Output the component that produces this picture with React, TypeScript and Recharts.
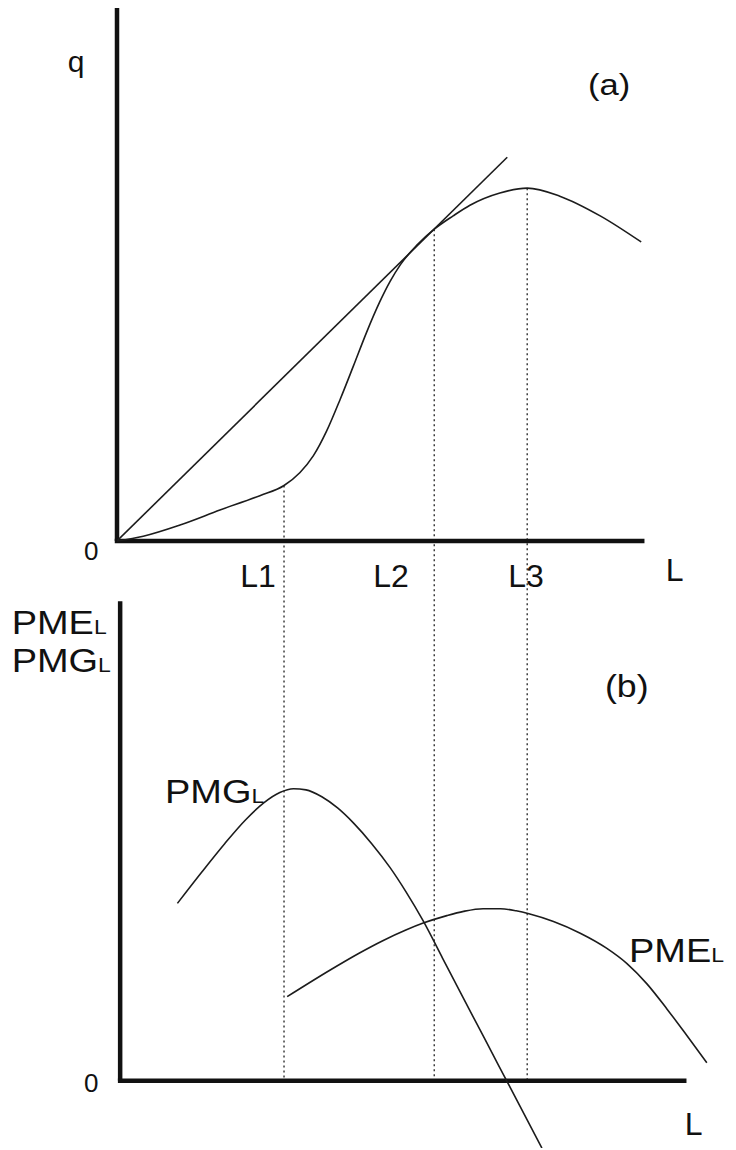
import React from "react";
import {
  ComposedChart,
  Line,
  XAxis,
  YAxis,
  ReferenceLine,
  ReferenceDot,
  Label,
} from "recharts";

const FONT = '"Liberation Sans", Arial, Helvetica, sans-serif';
const INK = "#111111";
const CURVE = "#1c1c1c";

// Labour levels marked on both panels
const markLevels = [3.18, 6.04, 7.81];
const markNames = ["L1", "L2", "L3"];
// total product at L1 (inflection), L2 (tangency of the ray), L3 (maximum)
const markTotal = [1.04, 5.85, 6.62];

// (a) total product q(L)
const tpL = [0, 0.5, 1.2, 1.96, 2.72, 3.18, 3.48, 3.74, 3.99, 4.25, 4.5, 4.75, 5.0, 5.2, 5.4, 5.71, 6.04, 6.4, 6.72, 7.29, 7.81, 8.43, 9.2, 9.98];
const tpQ = [0, 0.09, 0.3, 0.58, 0.85, 1.04, 1.28, 1.6, 2.06, 2.66, 3.28, 3.91, 4.48, 4.87, 5.19, 5.55, 5.85, 6.1, 6.3, 6.53, 6.62, 6.47, 6.1, 5.61];

// ray from the origin, tangent to q(L) at L2
const rayL = [0, 7.43];
const rayQ = [0, 7.2];

// (b) marginal product PMG_L
const pmgL = [1.15, 1.6, 2.05, 2.45, 2.8, 3.1, 3.36, 3.6, 3.9, 4.2, 4.5, 4.85, 5.2, 5.5, 5.83, 6.2, 6.59, 7.0, 7.42, 8.09];
const pmgV = [3.33, 3.9, 4.45, 4.9, 5.22, 5.41, 5.48, 5.46, 5.33, 5.12, 4.84, 4.45, 4.0, 3.55, 3.0, 2.3, 1.56, 0.79, 0, -1.26];

// (b) average product PME_L
const pmeL = [3.24, 4.06, 4.6, 5.06, 5.5, 5.83, 6.28, 6.6, 6.97, 7.3, 7.6, 7.86, 8.31, 8.82, 9.32, 9.71, 10.09, 10.47, 10.85, 11.23];
const pmeV = [1.58, 2.08, 2.39, 2.63, 2.83, 2.96, 3.1, 3.18, 3.23, 3.23, 3.19, 3.13, 2.99, 2.77, 2.49, 2.2, 1.82, 1.35, 0.85, 0.34];

const tpData = tpL.map((l, i) => ({ L: l, q: tpQ[i] }));
const rayData = rayL.map((l, i) => ({ L: l, q: rayQ[i] }));
const pmgData = pmgL.map((l, i) => ({ L: l, v: pmgV[i] }));
const pmeData = pmeL.map((l, i) => ({ L: l, v: pmeV[i] }));

// Both panels share one labour scale; each panel has its own vertical axis.
const X_DOMAIN: [number, number] = [0, 11.5];
const Q_DOMAIN: [number, number] = [-11.39, 10];
const P_DOMAIN: [number, number] = [-1.26, 20.13];
const P_ZERO_IN_Q = -10.13; // height of panel (b)'s horizontal axis on the q scale

// Axis extents
const Q_AXIS_TOP = 10;
const L_AXIS_END_A = 10.0;
const P_AXIS_X = 0.06;
const P_AXIS_TOP = 9.0;
const L_AXIS_END_B = 10.8;

const AXIS_W = 4.5;

type Anchor = "start" | "middle" | "end";

const textLabel =
  (text: string, size: number, anchor: Anchor, stretch: number, sub?: string) =>
  (props: any) => {
    const vb = props.viewBox || {};
    const x = (vb.x ?? 0) + (vb.width ?? 0) / 2;
    const y = (vb.y ?? 0) + (vb.height ?? 0) / 2;
    return (
      <text
        x={0}
        y={0}
        transform={`translate(${x},${y}) scale(${stretch},1)`}
        textAnchor={anchor}
        fontFamily={FONT}
        fontSize={size}
        fill={INK}
      >
        {text}
        {sub ? <tspan fontSize={Math.round(size * 0.6)}>{sub}</tspan> : null}
      </text>
    );
  };

type Tag = {
  axis: "q" | "p";
  x: number;
  y: number;
  text: string;
  sub?: string;
  size: number;
  anchor: Anchor;
  stretch?: number;
};

const tags: Tag[] = [
  { axis: "q", x: -0.78, y: 8.8, text: "q", size: 30, anchor: "middle" },
  { axis: "q", x: 9.37, y: 8.37, text: "(a)", size: 30, anchor: "middle", stretch: 1.15 },
  { axis: "q", x: -0.49, y: -0.36, text: "0", size: 26, anchor: "middle" },
  { axis: "q", x: 2.685, y: -0.86, text: markNames[0], size: 32, anchor: "middle" },
  { axis: "q", x: 5.217, y: -0.86, text: markNames[1], size: 32, anchor: "middle" },
  { axis: "q", x: 7.788, y: -0.86, text: markNames[2], size: 32, anchor: "middle" },
  { axis: "q", x: 10.615, y: -0.75, text: "L", size: 32, anchor: "middle" },
  { axis: "p", x: -2.005, y: 8.39, text: "PME", sub: "L", size: 33, anchor: "start", stretch: 1.15 },
  { axis: "p", x: -2.005, y: 7.67, text: "PMG", sub: "L", size: 33, anchor: "start", stretch: 1.15 },
  { axis: "p", x: 9.705, y: 7.2, text: "(b)", size: 31, anchor: "middle", stretch: 1.15 },
  { axis: "p", x: 0.914, y: 5.216, text: "PMG", sub: "L", size: 33, anchor: "start", stretch: 1.15 },
  { axis: "p", x: 9.749, y: 2.233, text: "PME", sub: "L", size: 33, anchor: "start", stretch: 1.15 },
  { axis: "p", x: -0.49, y: -0.206, text: "0", size: 26, anchor: "middle" },
  { axis: "p", x: 10.977, y: -1.013, text: "L", size: 32, anchor: "middle" },
];

const curveProps = {
  stroke: CURVE,
  strokeWidth: 1.6,
  dot: false,
  activeDot: false,
  isAnimationActive: false,
};

export default function App() {
  return (
    <div style={{ position: "absolute", left: 0, top: 0, width: 736, height: 1150, background: "#fff" }}>
      <ComposedChart
        width={736}
        height={1150}
        margin={{ top: 8, right: 15, bottom: 2, left: 117 }}
      >
        <XAxis type="number" dataKey="L" domain={X_DOMAIN} allowDataOverflow hide />
        <YAxis yAxisId="q" type="number" domain={Q_DOMAIN} allowDataOverflow hide />
        <YAxis yAxisId="p" type="number" domain={P_DOMAIN} allowDataOverflow hide />

        {/* guide lines from panel (a) down to panel (b) */}
        {markLevels.map((l, i) => (
          <ReferenceLine
            key={markNames[i]}
            yAxisId="q"
            segment={[
              { x: l, y: markTotal[i] },
              { x: l, y: P_ZERO_IN_Q },
            ]}
            stroke="#222"
            strokeWidth={1.3}
            strokeDasharray="2 3"
            ifOverflow="visible"
          />
        ))}

        {/* panel (a) axes */}
        <ReferenceLine
          yAxisId="q"
          segment={[
            { x: 0, y: 0 },
            { x: 0, y: Q_AXIS_TOP },
          ]}
          stroke={INK}
          strokeWidth={AXIS_W}
          ifOverflow="visible"
        />
        <ReferenceLine
          yAxisId="q"
          segment={[
            { x: 0, y: 0 },
            { x: L_AXIS_END_A, y: 0 },
          ]}
          stroke={INK}
          strokeWidth={AXIS_W}
          strokeLinecap="square"
          ifOverflow="visible"
        />

        {/* panel (b) axes */}
        <ReferenceLine
          yAxisId="p"
          segment={[
            { x: P_AXIS_X, y: 0 },
            { x: P_AXIS_X, y: P_AXIS_TOP },
          ]}
          stroke={INK}
          strokeWidth={AXIS_W}
          ifOverflow="visible"
        />
        <ReferenceLine
          yAxisId="p"
          segment={[
            { x: P_AXIS_X, y: 0 },
            { x: L_AXIS_END_B, y: 0 },
          ]}
          stroke={INK}
          strokeWidth={AXIS_W}
          strokeLinecap="square"
          ifOverflow="visible"
        />

        <Line yAxisId="q" data={rayData} dataKey="q" type="linear" {...curveProps} />
        <Line yAxisId="q" data={tpData} dataKey="q" type="monotone" {...curveProps} />
        <Line yAxisId="p" data={pmgData} dataKey="v" type="monotone" {...curveProps} />
        <Line yAxisId="p" data={pmeData} dataKey="v" type="monotone" {...curveProps} />

        {tags.map((t, i) => (
          <ReferenceDot
            key={i}
            yAxisId={t.axis}
            x={t.x}
            y={t.y}
            r={0}
            fill="none"
            stroke="none"
            ifOverflow="visible"
          >
            <Label content={textLabel(t.text, t.size, t.anchor, t.stretch ?? 1, t.sub)} />
          </ReferenceDot>
        ))}
      </ComposedChart>
    </div>
  );
}
